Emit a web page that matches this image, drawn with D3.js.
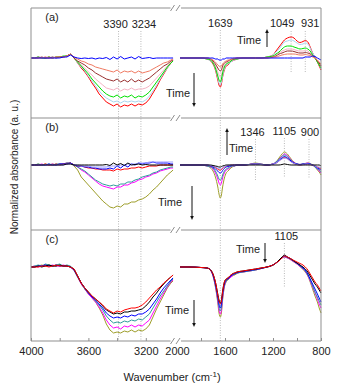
<!DOCTYPE html>
<html>
<head>
<meta charset="utf-8">
<script src="https://cdn.jsdelivr.net/npm/d3@7"></script>
<style>
  body { margin: 0; background: #fff; }
  svg text { font-family: Arial, "Liberation Sans", sans-serif; fill: #222; }
</style>
</head>
<body>
<div id="chart"></div>
<script>
// wavenumber grids (cm-1) for the two halves of the broken axis
const wn_left = [4000,3975,3950,3925,3900,3875,3850,3825,3800,3775,3750,3725,3700,3675,3650,3625,3600,3575,3550,3525,3500,3475,3450,3425,3400,3375,3350,3325,3300,3275,3250,3225,3200,3175,3150,3125,3100,3075,3050,3025,3010];
const wn_right = [1975,1900,1800,1750,1720,1700,1680,1660,1650,1639,1630,1620,1605,1590,1575,1560,1540,1520,1500,1450,1400,1346,1300,1250,1200,1175,1150,1125,1105,1080,1049,1025,1000,975,950,931,910,890,870,850,830,815,800];

// panel (a)
const a_red_l = [0,0,0.01,0,0,0.01,0,0.01,0.01,0.01,0.02,0.04,0,-0.05,-0.1,-0.14,-0.19,-0.25,-0.3,-0.36,-0.4,-0.44,-0.46,-0.48,-0.46,-0.49,-0.47,-0.48,-0.46,-0.48,-0.46,-0.47,-0.45,-0.41,-0.35,-0.29,-0.22,-0.16,-0.1,-0.05,-0.03];
const a_lblue_l = [0,0,0.01,0,0,0,0.01,0,0.01,0.01,0.02,0.04,0,-0.05,-0.09,-0.13,-0.18,-0.23,-0.28,-0.33,-0.37,-0.4,-0.42,-0.44,-0.43,-0.45,-0.43,-0.44,-0.43,-0.44,-0.43,-0.44,-0.42,-0.38,-0.33,-0.27,-0.21,-0.15,-0.1,-0.05,-0.03];
const a_green_l = [0,0,0.01,0,0,0.01,0,0.01,0.01,0.02,0.02,0.04,0,-0.04,-0.08,-0.12,-0.16,-0.21,-0.25,-0.29,-0.33,-0.36,-0.38,-0.39,-0.37,-0.4,-0.38,-0.39,-0.37,-0.4,-0.38,-0.39,-0.37,-0.34,-0.29,-0.24,-0.19,-0.14,-0.09,-0.05,-0.03];
const a_pink_l = [0,0,0,0,0.01,0,0,0.01,0.01,0.01,0.02,0.04,0,-0.04,-0.07,-0.1,-0.14,-0.17,-0.21,-0.24,-0.27,-0.3,-0.31,-0.32,-0.3,-0.33,-0.31,-0.32,-0.3,-0.32,-0.31,-0.31,-0.3,-0.28,-0.24,-0.2,-0.16,-0.12,-0.08,-0.04,-0.02];
const a_maroon_l = [0,0,0,0.01,0,0,0.01,0,0.01,0.01,0.02,0.04,0,-0.03,-0.05,-0.07,-0.1,-0.12,-0.15,-0.17,-0.19,-0.21,-0.22,-0.23,-0.21,-0.24,-0.22,-0.24,-0.21,-0.24,-0.22,-0.24,-0.22,-0.2,-0.17,-0.14,-0.11,-0.08,-0.06,-0.03,-0.02];
const a_salmon_l = [0,0,0,0,0.01,0,0,0.01,0.01,0.01,0.02,0.04,0.01,-0.01,-0.03,-0.04,-0.06,-0.07,-0.09,-0.1,-0.11,-0.12,-0.13,-0.14,-0.12,-0.15,-0.13,-0.14,-0.13,-0.15,-0.13,-0.15,-0.14,-0.13,-0.11,-0.09,-0.07,-0.05,-0.04,-0.02,-0.01];
const a_blue_l = [0,0,0,0,0,0,0,0,0,0.01,0.01,0.03,0.01,0,-0.005,0,-0.005,0,-0.01,0,-0.005,0.005,-0.015,0.01,-0.01,0.015,-0.01,0,0.01,-0.01,0.015,-0.005,0,0.005,-0.005,0,0,0,0,0,0];

const a_red_r = [0,0,0,-0.01,-0.03,-0.06,-0.12,-0.22,-0.27,-0.29,-0.26,-0.19,-0.12,-0.08,-0.07,-0.05,-0.03,-0.02,-0.01,0,0,0,0,0.01,0.03,0.07,0.11,0.15,0.18,0.2,0.21,0.2,0.17,0.155,0.165,0.175,0.16,0.11,0.05,0.01,-0.04,-0.08,-0.12];
const a_lblue_r = [0,0,0,-0.01,-0.03,-0.05,-0.11,-0.2,-0.25,-0.27,-0.24,-0.18,-0.11,-0.07,-0.06,-0.05,-0.03,-0.02,-0.01,0,0,0,0,0.01,0.03,0.06,0.09,0.13,0.16,0.17,0.18,0.17,0.15,0.135,0.14,0.15,0.14,0.1,0.05,0.01,-0.04,-0.07,-0.11];
const a_green_r = [0,0,0,-0.01,-0.02,-0.05,-0.1,-0.18,-0.22,-0.24,-0.21,-0.15,-0.09,-0.06,-0.05,-0.04,-0.02,-0.01,-0.01,0,0,0,0,0.01,0.02,0.04,0.06,0.09,0.11,0.12,0.12,0.11,0.1,0.09,0.095,0.1,0.09,0.07,0.03,0,-0.04,-0.07,-0.1];
const a_pink_r = [0,0,0,-0.01,-0.02,-0.04,-0.08,-0.14,-0.17,-0.19,-0.17,-0.12,-0.07,-0.05,-0.04,-0.03,-0.02,-0.01,0,0,0,0,0,0.01,0.02,0.03,0.05,0.07,0.08,0.09,0.09,0.085,0.075,0.07,0.07,0.075,0.07,0.05,0.02,0,-0.03,-0.06,-0.09];
const a_maroon_r = [0,0,0,0,-0.01,-0.03,-0.06,-0.1,-0.12,-0.13,-0.12,-0.08,-0.05,-0.04,-0.03,-0.02,-0.01,-0.01,0,0,0,0,0,0,0.01,0.02,0.04,0.05,0.06,0.07,0.07,0.065,0.055,0.05,0.05,0.055,0.05,0.04,0.02,0,-0.03,-0.05,-0.08];
const a_salmon_r = [0,0,0,0,-0.01,-0.02,-0.04,-0.07,-0.08,-0.09,-0.08,-0.06,-0.04,-0.03,-0.02,-0.02,-0.01,0,0,0,0,0,0,0,0.01,0.01,0.02,0.03,0.035,0.04,0.04,0.04,0.035,0.03,0.03,0.035,0.03,0.025,0.01,0,-0.02,-0.04,-0.06];
const a_blue_r = [0,0,0,0,0,0,-0.01,-0.01,-0.02,-0.02,-0.02,-0.01,-0.01,0,0,0,0,0,0,0,0,0,0,0,0,0,0,0,0,0,0,0,0,0,0,0.01,0.01,0.01,0.02,0.015,0,-0.01,-0.02];

// panel (b)
const b_olive_l = [0,0,0.01,0,0.01,0,0.01,0,0.01,0.01,0.02,0.02,-0.01,-0.05,-0.12,-0.16,-0.2,-0.24,-0.28,-0.32,-0.36,-0.39,-0.42,-0.43,-0.41,-0.42,-0.39,-0.39,-0.37,-0.37,-0.35,-0.34,-0.32,-0.29,-0.25,-0.22,-0.18,-0.14,-0.1,-0.07,-0.05];
const b_magenta_l = [0,0,0,0.01,0,0,0.01,0,0.01,0.01,0.02,0.02,0,-0.02,-0.05,-0.07,-0.1,-0.13,-0.16,-0.19,-0.21,-0.22,-0.23,-0.24,-0.22,-0.22,-0.2,-0.2,-0.18,-0.17,-0.15,-0.14,-0.12,-0.11,-0.09,-0.08,-0.06,-0.05,-0.04,-0.03,-0.03];
const b_teal_l = [0,0,0.01,0,0,0.01,0,0.01,0.01,0.01,0.02,0.02,0,-0.02,-0.04,-0.06,-0.09,-0.12,-0.15,-0.17,-0.19,-0.2,-0.21,-0.2,-0.21,-0.19,-0.19,-0.17,-0.17,-0.15,-0.14,-0.12,-0.11,-0.1,-0.08,-0.07,-0.05,-0.04,-0.03,-0.02,-0.02];
const b_red_l = [0,0,0,0,0.01,0,0,0.01,0,0.01,0.01,0.02,0,-0.01,-0.01,-0.02,-0.03,-0.03,-0.04,-0.04,-0.05,-0.05,-0.05,-0.06,-0.04,-0.05,-0.04,-0.04,-0.03,-0.03,-0.02,-0.03,-0.02,-0.01,-0.01,-0.01,0,0,0,0,0];
const b_blue_l = [0,0,0,0,0,0.01,0,0,0.01,0.01,0.01,0.02,0,-0.01,-0.01,-0.02,-0.02,-0.03,-0.03,-0.04,-0.04,-0.04,-0.03,-0.04,-0.01,-0.03,0,-0.02,0.01,0,0.02,0.01,0.02,0.02,0.03,0.02,0.02,0.02,0.02,0.01,0.01];
const b_lavender_l = [0,0,0,0,0,0,0,0,0,0,0.01,0.01,0,0,-0.01,-0.01,-0.01,-0.02,-0.02,-0.02,-0.02,-0.02,-0.01,-0.01,-0.01,0,0,0.01,0.01,0.01,0.02,0.02,0.02,0.03,0.03,0.03,0.03,0.03,0.03,0.03,0.03];
const b_black_l = [0,0,0,0,0,0,0,0,0,0,0.01,0.01,0,0,0,0,0,0,0,0,0,0.005,-0.005,0.02,0,0.015,-0.005,0.02,0,0.005,0.01,0,0.005,0,0,0,0,0,0,0,0];

const b_olive_r = [0,0,0,-0.01,-0.03,-0.06,-0.12,-0.22,-0.29,-0.33,-0.3,-0.22,-0.13,-0.08,-0.06,-0.04,-0.02,-0.01,0,0,0.005,0.02,0.01,0,0.01,0.03,0.07,0.11,0.13,0.11,0.06,0.03,0.01,0.005,0.01,0.015,0.02,0.015,0,-0.02,-0.05,-0.07,-0.1];
const b_magenta_r = [0,0,0,-0.01,-0.02,-0.04,-0.08,-0.14,-0.18,-0.2,-0.18,-0.13,-0.08,-0.05,-0.04,-0.03,-0.01,-0.01,0,0,0.005,0.015,0.01,0,0.01,0.03,0.06,0.09,0.11,0.095,0.05,0.025,0.01,0.005,0.01,0.015,0.02,0.01,0,-0.02,-0.04,-0.06,-0.08];
const b_teal_r = [0,0,0,-0.01,-0.02,-0.03,-0.06,-0.11,-0.14,-0.15,-0.14,-0.1,-0.06,-0.04,-0.03,-0.02,-0.01,-0.01,0,0,0.005,0.015,0.01,0,0.01,0.03,0.055,0.085,0.1,0.085,0.045,0.02,0.01,0.005,0.01,0.015,0.015,0.01,0,-0.02,-0.04,-0.05,-0.07];
const b_blue_r = [0,0,0,0,-0.01,-0.02,-0.04,-0.06,-0.075,-0.08,-0.075,-0.055,-0.035,-0.02,-0.015,-0.01,-0.005,0,0,0,0.005,0.01,0.005,0,0.01,0.02,0.045,0.07,0.085,0.07,0.04,0.02,0.01,0.005,0.01,0.01,0.015,0.01,0,-0.01,-0.03,-0.04,-0.05];
const b_red_r = [0,0,0,0,-0.01,-0.015,-0.025,-0.04,-0.05,-0.05,-0.045,-0.035,-0.02,-0.015,-0.01,-0.005,0,0,0,0,0.005,0.01,0.005,0,0.01,0.02,0.04,0.065,0.075,0.065,0.035,0.015,0.005,0,0.005,0.01,0.01,0.005,0,-0.01,-0.02,-0.03,-0.04];
const b_lavender_r = [0,0,0,0,-0.005,-0.01,-0.02,-0.03,-0.035,-0.04,-0.035,-0.025,-0.015,-0.01,-0.005,0,0,0,0,0,0.005,0.01,0.005,0,0.01,0.02,0.04,0.06,0.07,0.06,0.03,0.015,0.005,0,0.005,0.01,0.01,0.005,0,-0.01,-0.02,-0.02,-0.03];
const b_black_r = [0,0,0,0,0,-0.005,-0.01,-0.015,-0.02,-0.02,-0.015,-0.01,-0.005,0,0,0,0,0,0,0,0,0,0,0,0,0,0,0.005,0.01,0.005,0,0,0,0,0,0,0,0,0,0,0,0,-0.01];

// panel (c)
const c_olive_l = [0,0,0.01,0.02,0.01,0.02,0.01,0.01,0.02,0.01,0.01,0,-0.03,-0.1,-0.17,-0.22,-0.27,-0.31,-0.35,-0.41,-0.48,-0.57,-0.63,-0.66,-0.65,-0.66,-0.64,-0.65,-0.63,-0.65,-0.63,-0.64,-0.62,-0.58,-0.5,-0.42,-0.35,-0.28,-0.21,-0.16,-0.14];
const c_magenta_l = [0,0.01,0,0.01,0.02,0.01,0.02,0.01,0.01,0.02,0.01,0,-0.03,-0.1,-0.17,-0.22,-0.27,-0.31,-0.35,-0.4,-0.46,-0.53,-0.58,-0.61,-0.6,-0.62,-0.59,-0.6,-0.58,-0.6,-0.58,-0.59,-0.56,-0.53,-0.46,-0.39,-0.32,-0.26,-0.2,-0.15,-0.13];
const c_teal_l = [0,0.01,0.02,0.01,0.03,0.02,0.01,0.02,0.03,0.01,0.02,0.01,-0.03,-0.1,-0.16,-0.22,-0.26,-0.3,-0.34,-0.38,-0.43,-0.49,-0.53,-0.56,-0.55,-0.56,-0.54,-0.55,-0.53,-0.54,-0.52,-0.53,-0.5,-0.47,-0.41,-0.35,-0.29,-0.24,-0.19,-0.14,-0.12];
const c_blue_l = [0,0,0.01,0.01,0.02,0.01,0.01,0.02,0.01,0.01,0.01,0,-0.03,-0.09,-0.16,-0.21,-0.26,-0.3,-0.33,-0.37,-0.41,-0.46,-0.49,-0.51,-0.5,-0.51,-0.49,-0.5,-0.48,-0.49,-0.47,-0.47,-0.45,-0.42,-0.37,-0.32,-0.26,-0.21,-0.17,-0.13,-0.11];
const c_black_l = [0,0,0.01,0,0.01,0.02,0.01,0.01,0.02,0.01,0.01,0,-0.02,-0.09,-0.16,-0.21,-0.25,-0.29,-0.32,-0.35,-0.39,-0.43,-0.45,-0.47,-0.46,-0.47,-0.45,-0.45,-0.44,-0.44,-0.43,-0.42,-0.39,-0.35,-0.3,-0.26,-0.21,-0.17,-0.13,-0.1,-0.08];
const c_red_l = [0,0,0,0.01,0.01,0,0.01,0.02,0.01,0.01,0.01,0,-0.02,-0.09,-0.16,-0.21,-0.25,-0.29,-0.32,-0.35,-0.38,-0.42,-0.44,-0.46,-0.44,-0.45,-0.43,-0.42,-0.41,-0.41,-0.4,-0.38,-0.35,-0.31,-0.27,-0.23,-0.2,-0.16,-0.13,-0.1,-0.08];

const c_olive_r = [0,0,-0.005,-0.01,-0.035,-0.09,-0.2,-0.36,-0.46,-0.5,-0.46,-0.33,-0.2,-0.15,-0.13,-0.11,-0.09,-0.08,-0.065,-0.05,-0.04,-0.03,-0.015,0,0.02,0.04,0.065,0.09,0.1,0.09,0.07,0.05,0.03,0.005,-0.025,-0.05,-0.09,-0.15,-0.22,-0.29,-0.35,-0.41,-0.46];
const c_magenta_r = [0,0,-0.005,-0.01,-0.035,-0.09,-0.19,-0.34,-0.43,-0.47,-0.43,-0.31,-0.19,-0.14,-0.12,-0.11,-0.09,-0.07,-0.06,-0.05,-0.04,-0.03,-0.015,0,0.02,0.04,0.065,0.09,0.1,0.09,0.07,0.05,0.03,0.005,-0.02,-0.045,-0.085,-0.14,-0.2,-0.26,-0.32,-0.37,-0.41];
const c_teal_r = [0,0,-0.005,-0.01,-0.03,-0.08,-0.18,-0.32,-0.4,-0.44,-0.4,-0.29,-0.18,-0.14,-0.12,-0.1,-0.08,-0.07,-0.06,-0.05,-0.04,-0.03,-0.015,0,0.02,0.04,0.065,0.095,0.105,0.095,0.075,0.055,0.035,0.01,-0.015,-0.04,-0.08,-0.13,-0.19,-0.25,-0.3,-0.34,-0.38];
const c_blue_r = [0,0,-0.005,-0.01,-0.03,-0.08,-0.17,-0.3,-0.37,-0.41,-0.37,-0.27,-0.17,-0.13,-0.12,-0.1,-0.08,-0.07,-0.055,-0.045,-0.035,-0.025,-0.015,0,0.02,0.04,0.065,0.095,0.11,0.1,0.08,0.06,0.04,0.015,-0.01,-0.03,-0.07,-0.12,-0.17,-0.22,-0.27,-0.31,-0.35];
const c_black_r = [0,0,-0.005,-0.01,-0.03,-0.07,-0.15,-0.27,-0.33,-0.36,-0.33,-0.24,-0.15,-0.12,-0.11,-0.09,-0.07,-0.06,-0.05,-0.04,-0.03,-0.02,-0.01,0,0.02,0.04,0.07,0.1,0.12,0.1,0.08,0.06,0.04,0.02,0,-0.02,-0.05,-0.09,-0.13,-0.17,-0.2,-0.23,-0.26];
const c_red_r = [0,0,-0.005,-0.01,-0.03,-0.07,-0.15,-0.28,-0.34,-0.37,-0.34,-0.25,-0.15,-0.12,-0.11,-0.09,-0.07,-0.06,-0.05,-0.04,-0.03,-0.02,-0.01,0,0.02,0.04,0.06,0.09,0.11,0.1,0.08,0.065,0.05,0.035,0.02,0,-0.03,-0.07,-0.11,-0.15,-0.18,-0.21,-0.24];

// axis ticks
const ticks_left = [4000, 3800, 3600, 3400, 3200];
const ticks_right = [2000, 1800, 1600, 1400, 1200, 1000, 800];
const tick_labels = [4000, 3600, 3200, 2000, 1600, 1200, 800];

const width = 340, height = 389;
const plot_left = 31, plot_right = 321, break_x = 175.5;

const x_left = d3.scaleLinear().domain([4000, 3000]).range([plot_left, 174.5]);
const x_right = d3.scaleLinear().domain([2000, 800]).range([177, plot_right]);

const panels = [
  { name: "(a)", top: 8, bottom: 118, domain: [-0.6, 0.5], series: [
    { color: "#ff0000", left: a_red_l, right: a_red_r },
    { color: "#a9d5ee", left: a_lblue_l, right: a_lblue_r },
    { color: "#f5b3c3", left: a_pink_l, right: a_pink_r },
    { color: "#00e000", left: a_green_l, right: a_green_r },
    { color: "#993030", left: a_maroon_l, right: a_maroon_r },
    { color: "#f07a62", left: a_salmon_l, right: a_salmon_r },
    { color: "#0000ff", left: a_blue_l, right: a_blue_r },
  ]},
  { name: "(b)", top: 118, bottom: 230, domain: [-0.65, 0.47], series: [
    { color: "#9e9e2a", left: b_olive_l, right: b_olive_r },
    { color: "#ff00ff", left: b_magenta_l, right: b_magenta_r },
    { color: "#2f9c9c", left: b_teal_l, right: b_teal_r },
    { color: "#ff0000", left: b_red_l, right: b_red_r },
    { color: "#0000ff", left: b_blue_l, right: b_blue_r },
    { color: "#9a9aff", left: b_lavender_l, right: b_lavender_r },
    { color: "#000000", left: b_black_l, right: b_black_r },
  ]},
  { name: "(c)", top: 230, bottom: 341, domain: [-0.74, 0.37], series: [
    { color: "#9e9e2a", left: c_olive_l, right: c_olive_r },
    { color: "#ff00ff", left: c_magenta_l, right: c_magenta_r },
    { color: "#2f9c9c", left: c_teal_l, right: c_teal_r },
    { color: "#0000ff", left: c_blue_l, right: c_blue_r },
    { color: "#000000", left: c_black_l, right: c_black_r },
    { color: "#ff0000", left: c_red_l, right: c_red_r },
  ]},
];

// dotted guides at band positions, with their labels
const guides = [
  { side: "left", wn: 3390, y1: 31, y2: 341, ty: 28, dx: -3 },
  { side: "left", wn: 3234, y1: 31, y2: 341, ty: 28, dx: 3 },
  { side: "right", wn: 1639, y1: 30, y2: 341, ty: 27, dx: 0 },
  { side: "right", wn: 1049, y1: 31, y2: 72, ty: 27, dx: -9 },
  { side: "right", wn: 931, y1: 31, y2: 72, ty: 27, dx: 5 },
  { side: "right", wn: 1346, y1: 139, y2: 180, ty: 136, dx: -3 },
  { side: "right", wn: 1105, y1: 138, y2: 178, ty: 135, dx: 0 },
  { side: "right", wn: 900, y1: 139, y2: 178, ty: 136, dx: 1 },
  { side: "right", wn: 1105, y1: 243, y2: 288, ty: 240, dx: 2 },
];

// "Time" arrows: text centre, arrow x, tail y, head y
const time_arrows = [
  { tx: 249, ty: 44, ax: 267, from: 47, to: 29 },
  { tx: 178, ty: 97, ax: 194, from: 73, to: 107 },
  { tx: 241, ty: 152, ax: 227, from: 155, to: 128 },
  { tx: 170, ty: 206, ax: 192, from: 186, to: 220 },
  { tx: 248, ty: 253, ax: 265, from: 243, to: 263 },
  { tx: 177, ty: 314, ax: 194, from: 300, to: 327 },
];

const svg = d3.select("#chart").append("svg")
  .attr("width", width)
  .attr("height", height);

const frame_color = "#8f8f8f";

function draw_panel(p) {
  let y = d3.scaleLinear().domain(p.domain).range([p.bottom, p.top]);
  let g = svg.append("g").attr("class", "panel");

  let line_left = d3.line()
    .defined(d => d != null)
    .x((d, i) => x_left(wn_left[i]))
    .y(d => y(d));
  let line_right = d3.line()
    .defined(d => d != null)
    .x((d, i) => x_right(wn_right[i]))
    .y(d => y(d))
    .curve(d3.curveMonotoneX);

  p.series.forEach(s => {
    g.append("path").attr("d", line_left(s.left))
      .attr("fill", "none").attr("stroke", s.color).attr("stroke-width", 1);
    g.append("path").attr("d", line_right(s.right))
      .attr("fill", "none").attr("stroke", s.color).attr("stroke-width", 1);
  });

  g.append("text")
    .attr("x", 52).attr("y", p.top + 13)
    .attr("text-anchor", "middle")
    .attr("font-size", 11)
    .text(p.name);
}

// guides go underneath the spectra
let guide_g = svg.append("g");
guides.forEach(d => {
  let x = (d.side === "left" ? x_left : x_right)(d.wn);
  guide_g.append("line")
    .attr("x1", x).attr("x2", x).attr("y1", d.y1).attr("y2", d.y2)
    .attr("stroke", "#a8a8a8").attr("stroke-width", 0.8)
    .attr("stroke-dasharray", "1,1.5");
  guide_g.append("text")
    .attr("x", x + d.dx).attr("y", d.ty)
    .attr("text-anchor", "middle")
    .attr("font-size", 11)
    .text(d.wn);
});

panels.forEach(draw_panel);

// frame with the axis break on every horizontal edge
let frame = svg.append("g").attr("stroke", frame_color).attr("stroke-width", 1).attr("fill", "none");
frame.append("line").attr("x1", plot_left).attr("x2", plot_left).attr("y1", 8).attr("y2", 341);
frame.append("line").attr("x1", plot_right).attr("x2", plot_right).attr("y1", 8).attr("y2", 341);
[8, 118, 230, 341].forEach(yy => {
  frame.append("line").attr("x1", plot_left).attr("x2", break_x - 5).attr("y1", yy).attr("y2", yy);
  frame.append("line").attr("x1", break_x + 5.5).attr("x2", plot_right).attr("y1", yy).attr("y2", yy);
  frame.append("line").attr("x1", break_x - 5).attr("y1", yy + 3).attr("x2", break_x - 1).attr("y2", yy - 3);
  frame.append("line").attr("x1", break_x + 0.5).attr("y1", yy + 3).attr("x2", break_x + 4.5).attr("y2", yy - 3);
});

// bottom axis: short inward ticks, labels every 400 cm-1
function style_axis(g) {
  g.select(".domain").remove();
  g.selectAll(".tick line").attr("stroke", frame_color);
  g.selectAll(".tick text")
    .attr("font-family", "Arial, 'Liberation Sans', sans-serif")
    .attr("font-size", 11)
    .attr("fill", "#222");
}
let fmt = d => tick_labels.includes(d) ? d : "";

svg.append("g")
  .attr("transform", "translate(0,341)")
  .call(d3.axisBottom(x_left).tickValues(ticks_left).tickSize(-3).tickPadding(6).tickFormat(fmt))
  .call(style_axis);

svg.append("g")
  .attr("transform", "translate(0,341)")
  .call(d3.axisBottom(x_right).tickValues(ticks_right).tickSize(-3).tickPadding(6).tickFormat(fmt))
  .call(style_axis)
  .call(g => g.selectAll(".tick line").filter(d => d === 2000).remove());

// Time arrows
time_arrows.forEach(d => {
  let dir = d.to > d.from ? 1 : -1;
  svg.append("text")
    .attr("x", d.tx).attr("y", d.ty)
    .attr("text-anchor", "middle")
    .attr("font-size", 11)
    .text("Time");
  svg.append("line")
    .attr("x1", d.ax).attr("x2", d.ax)
    .attr("y1", d.from).attr("y2", d.to - dir * 3)
    .attr("stroke", "#111").attr("stroke-width", 1);
  svg.append("path")
    .attr("d", `M${d.ax - 1.8},${d.to - dir * 4}L${d.ax + 1.8},${d.to - dir * 4}L${d.ax},${d.to}Z`)
    .attr("fill", "#111");
});

// axis titles
let xt = svg.append("text")
  .attr("x", 172).attr("y", 381)
  .attr("text-anchor", "middle")
  .attr("font-size", 11);
xt.append("tspan").text("Wavenumber (cm");
xt.append("tspan").attr("dy", -4).attr("font-size", 8).text("-1");
xt.append("tspan").attr("dy", 4).text(")");

svg.append("text")
  .attr("transform", "translate(18,167) rotate(-90)")
  .attr("text-anchor", "middle")
  .attr("font-size", 10)
  .text("Normalized absorbance (a. u.)");
</script>
</body>
</html>
